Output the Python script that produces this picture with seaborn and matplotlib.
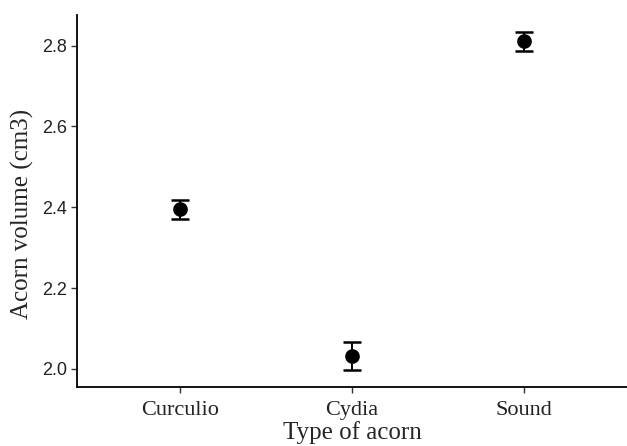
import matplotlib
matplotlib.use("Agg")
import matplotlib.pyplot as plt
import seaborn as sns
import pandas as pd

acorn_types = ["Curculio", "Cydia", "Sound"]
mean_volume = [2.395, 2.032, 2.811]
se_volume = [0.024, 0.034, 0.023]
y_ticks = [2.0, 2.2, 2.4, 2.6, 2.8]

df = pd.DataFrame({"type": acorn_types, "volume": mean_volume, "se": se_volume})

sns.set_style("white")
fig = plt.figure(figsize=(6.27, 4.46), dpi=100)
ax = fig.add_axes([0.1228, 0.1323, 0.8772, 0.8341])

ax.errorbar(range(len(acorn_types)), df["volume"], yerr=df["se"], fmt="none",
            ecolor="black", elinewidth=1.4, capsize=6.5, capthick=1.8, zorder=2)
sns.pointplot(data=df, x="type", y="volume", linestyle="none", errorbar=None,
              color="black", marker="o", markersize=8.5, ax=ax, zorder=3)

ax.set_xlim(-0.6, 2.6)
ax.set_ylim(1.955, 2.876)
ax.set_yticks(y_ticks)
ax.set_yticklabels([f"{v:.1f}" for v in y_ticks], family="Liberation Sans",
                   fontsize=13, color="#222222")
ax.set_xticks(range(len(acorn_types)))
ax.set_xticklabels(acorn_types, family="Liberation Serif", fontsize=16, color="#222222")

ax.set_xlabel("Type of acorn", family="Liberation Serif", fontsize=18, labelpad=1)
ax.set_ylabel("Acorn volume (cm3)", family="Liberation Serif", fontsize=18)
ax.yaxis.set_label_coords(-0.078, 0.465)

for side in ["top", "right"]:
    ax.spines[side].set_visible(False)
for side in ["left", "bottom"]:
    ax.spines[side].set_color("black")
    ax.spines[side].set_linewidth(1.3)
ax.tick_params(axis="both", which="major", length=4, width=1, color="#333333",
               left=True, bottom=True, pad=3)
ax.tick_params(axis="x", pad=6)

fig.savefig("out.png", dpi=100)
